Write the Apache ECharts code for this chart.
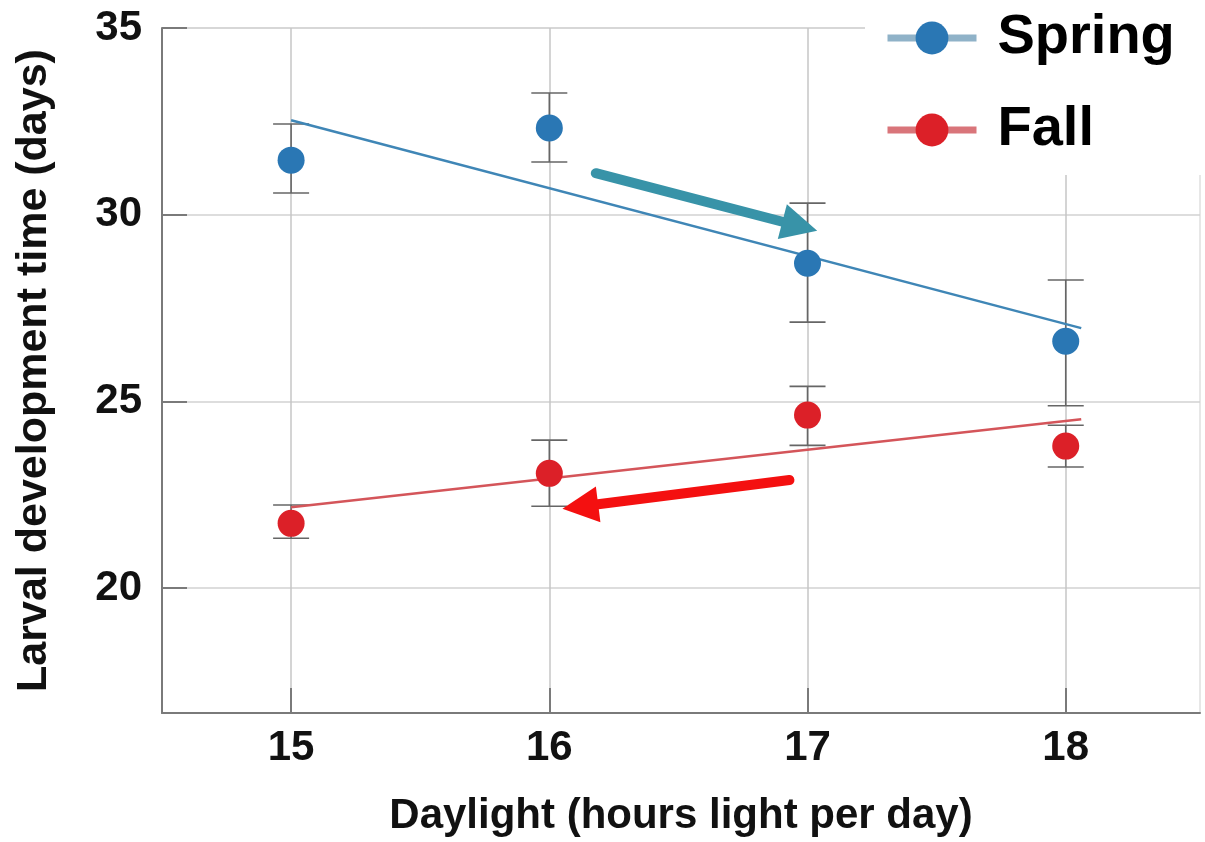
<!DOCTYPE html>
<html>
<head>
<meta charset="utf-8">
<script src="https://cdn.jsdelivr.net/npm/echarts@6/dist/echarts.min.js"></script>
<style>html,body{margin:0;padding:0;background:#fff}#main{width:1205px;height:842px}</style>
</head>
<body>
<div id="main"></div>
<script>
// values
var hours = [15, 16, 17, 18];
var spring_mean = [31.46, 32.32, 28.70, 26.61];
var spring_low = [30.58, 31.41, 27.12, 24.88];
var spring_high = [32.43, 33.26, 30.31, 28.25];
var fall_mean = [21.73, 23.07, 24.63, 23.80];
var fall_low = [21.33, 22.19, 23.82, 23.24];
var fall_high = [22.22, 23.96, 25.40, 24.36];
var spring_fit = [[15, 32.53], [18.06, 26.96]];
var fall_fit = [[15, 22.16], [18.06, 24.52]];
// hand drawn arrows (start, head centre)
var spring_arrow = [[16.18, 31.11], [16.97, 29.69]];
var fall_arrow = [[16.93, 22.89], [16.12, 22.18]];
var y_ticks = [20, 25, 30, 35];
var x_ticks = [15, 16, 17, 18];

function pairs(xs, ys){
	var out = [];
	for (var i = 0; i < xs.length; i++) out.push([xs[i], ys[i]]);
	return out;
}
function bars(xs, lo, hi){
	var out = [];
	for (var i = 0; i < xs.length; i++) out.push([xs[i], lo[i], hi[i]]);
	return out;
}

function errbar(params, api){
	var x = api.value(0);
	var top = api.coord([x, api.value(2)]);
	var bot = api.coord([x, api.value(1)]);
	var w = 18;
	var st = {stroke: '#666', lineWidth: 1.6};
	return {
		type: 'group',
		children: [
			{type: 'line', shape: {x1: top[0], y1: top[1], x2: bot[0], y2: bot[1]}, style: st},
			{type: 'line', shape: {x1: top[0] - w, y1: top[1], x2: top[0] + w, y2: top[1]}, style: st},
			{type: 'line', shape: {x1: bot[0] - w, y1: bot[1], x2: bot[0] + w, y2: bot[1]}, style: st}
		]
	};
}

function arrow(pts, color){
	return {
		silent: true,
		animation: false,
		label: {show: false},
		emphasis: {disabled: true},
		lineStyle: {color: color, width: 10, type: 'solid', cap: 'round'},
		data: [[
			{coord: pts[0], symbol: 'none'},
			{coord: pts[1], symbol: 'triangle', symbolSize: 36}
		]]
	};
}

var chartDom = document.getElementById('main');
var myChart = echarts.init(chartDom);
var option;

option = {
	animation: false,
	textStyle: {fontFamily: 'Liberation Sans, Arial, sans-serif'},
	grid: {left: 162, right: 5, top: 28, bottom: 129, outerBoundsMode: 'none',
		show: true, borderColor: '#cfcfcf', borderWidth: 1},
	legend: {
		data: [
			{name: 'Spring', itemStyle: {color: '#2a77b4'}, lineStyle: {color: '#8fb2c8', width: 7, opacity: 1}},
			{name: 'Fall', itemStyle: {color: '#dc2028'}, lineStyle: {color: '#d9757a', width: 7, opacity: 1}}
		],
		orient: 'vertical',
		left: 865,
		top: 0,
		padding: [10, 28, 17, 19],
		backgroundColor: '#fff',
		itemWidth: 89,
		itemHeight: 41,
		itemGap: 36,
		selectedMode: false,
		textStyle: {fontSize: 56, fontWeight: 'bold', color: '#000', padding: [0, 0, 0, 16],
			fontFamily: 'Liberation Sans, Arial, sans-serif'}
	},
	xAxis: {
		type: 'value',
		min: 14.5,
		max: 18.52,
		name: 'Daylight (hours light per day)',
		nameLocation: 'middle',
		nameGap: 82,
		nameTextStyle: {fontSize: 42, fontWeight: 'bold', color: '#111'},
		axisLine: {show: true, lineStyle: {color: '#7a7a7a', width: 2}},
		axisTick: {show: true, inside: true, length: 25, customValues: x_ticks,
			lineStyle: {color: '#7a7a7a', width: 2}},
		axisLabel: {customValues: x_ticks, fontSize: 42, fontWeight: 'bold', color: '#111', margin: 14},
		splitLine: {show: true, lineStyle: {color: '#c6c6c6', width: 1.5}}
	},
	yAxis: {
		type: 'value',
		min: 16.65,
		max: 35,
		name: 'Larval development time (days)',
		nameLocation: 'middle',
		nameGap: 106,
		nameTextStyle: {fontSize: 43, fontWeight: 'bold', color: '#111'},
		axisLine: {show: true, lineStyle: {color: '#7a7a7a', width: 2}},
		axisTick: {show: true, inside: true, length: 25, customValues: y_ticks,
			lineStyle: {color: '#7a7a7a', width: 2}},
		axisLabel: {customValues: y_ticks, fontSize: 42, fontWeight: 'bold', color: '#111', margin: 20},
		splitLine: {show: true, lineStyle: {color: '#d2d2d2', width: 1.5}}
	},
	series: [
		{
			name: 'spring_err', type: 'custom', renderItem: errbar, z: 1,
			data: bars(hours, spring_low, spring_high), silent: true
		},
		{
			name: 'fall_err', type: 'custom', renderItem: errbar, z: 1,
			data: bars(hours, fall_low, fall_high), silent: true
		},
		{
			name: 'spring_fit', type: 'line', data: spring_fit, symbol: 'none', z: 2,
			lineStyle: {color: '#3f86b6', width: 2.5}, silent: true,
			markLine: arrow(spring_arrow, '#3893a8')
		},
		{
			name: 'fall_fit', type: 'line', data: fall_fit, symbol: 'none', z: 2,
			lineStyle: {color: '#d4555a', width: 2.5}, silent: true,
			markLine: arrow(fall_arrow, '#f41010')
		},
		{
			name: 'Spring', type: 'line', data: pairs(hours, spring_mean), z: 3,
			symbol: 'circle', symbolSize: 27, showSymbol: true,
			itemStyle: {color: '#2a77b4'}, lineStyle: {opacity: 0}
		},
		{
			name: 'Fall', type: 'line', data: pairs(hours, fall_mean), z: 3,
			symbol: 'circle', symbolSize: 27, showSymbol: true,
			itemStyle: {color: '#dc2028'}, lineStyle: {opacity: 0}
		}
	]
};

option && myChart.setOption(option);
</script>
</body>
</html>
